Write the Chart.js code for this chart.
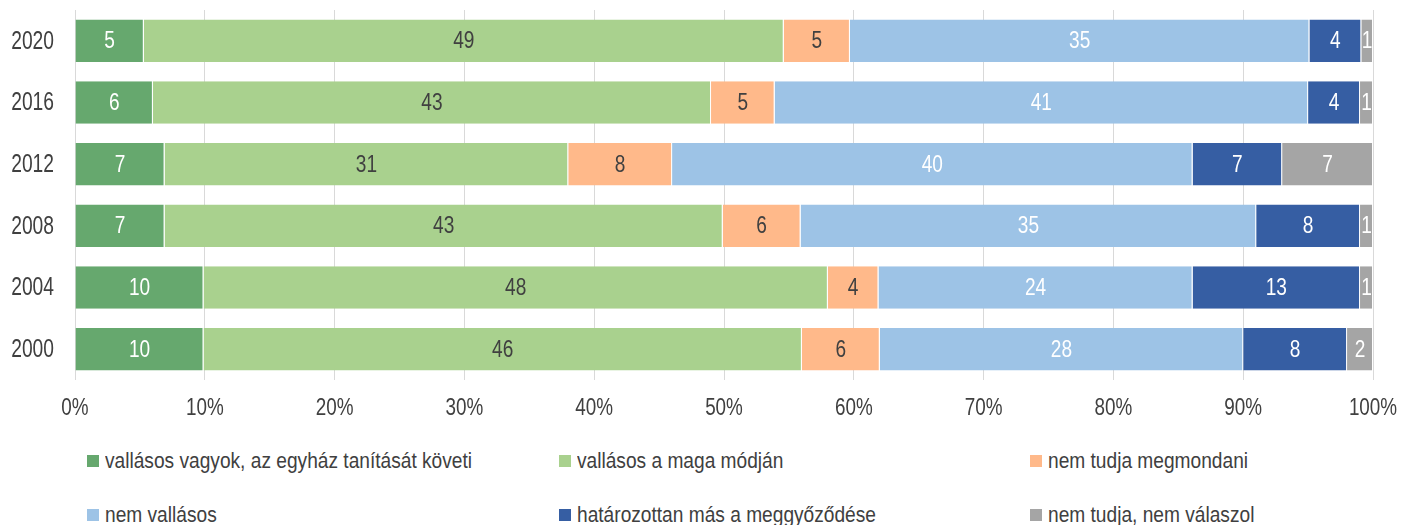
<!DOCTYPE html>
<html>
<head>
<meta charset="utf-8">
<script src="https://cdn.jsdelivr.net/npm/chart.js@4/dist/chart.umd.min.js"></script>
<style>
  html, body { margin: 0; padding: 0; background: #fff; }
  body { width: 1401px; height: 525px; position: relative; overflow: hidden; }
  #wrap { position: absolute; left: 0; top: 0; width: 1401px; height: 430px; }
  .leg { position: absolute; font-family: 'Liberation Sans', Arial, sans-serif; font-size: 22px; color: #404040; white-space: nowrap; line-height: 26px; }
  .leg .box { position: absolute; width: 12px; height: 12px; left: -18px; top: 7px; }
  .leg .txt { display: inline-block; transform: scaleX(0.87); transform-origin: 0 50%; }
</style>
</head>
<body>
<div id="wrap"><canvas id="c"></canvas></div>
<div id="legend"></div>
<script>
const categories = ['2020', '2016', '2012', '2008', '2004', '2000'];
const seriesNames = [
  'vallásos vagyok, az egyház tanítását követi',
  'vallásos a maga módján',
  'nem tudja megmondani',
  'nem vallásos',
  'határozottan más a meggyőződése',
  'nem tudja, nem válaszol'
];
const kovetiValues   = [5.3, 6.0, 6.9, 6.9, 9.9, 9.9];
const magaModjan     = [49.3, 43.0, 31.1, 43.0, 48.1, 46.1];
const nemTudjaMegm   = [5.1, 4.9, 8.0, 6.0, 3.9, 6.0];
const nemVallasos    = [35.4, 41.1, 40.1, 35.1, 24.2, 28.0];
const masMeggyoz     = [4.0, 4.0, 6.9, 8.0, 12.9, 8.0];
const nemValaszol    = [0.9, 1.0, 7.0, 1.0, 1.0, 2.0];
const xTickLabels = ['0%','10%','20%','30%','40%','50%','60%','70%','80%','90%','100%'];

const colors = ['#66a86e', '#a9d18e', '#ffb98a', '#9dc3e6', '#365ea3', '#a5a5a5'];
const labelColors = ['#ffffff', '#404040', '#404040', '#ffffff', '#ffffff', '#ffffff'];
const FONT = "'Liberation Sans', Arial, sans-serif";

const allSeries = [kovetiValues, magaModjan, nemTudjaMegm, nemVallasos, masMeggyoz, nemValaszol];

const datasets = allSeries.map((vals, i) => ({
  label: seriesNames[i],
  data: vals,
  backgroundColor: colors[i],
  borderColor: '#ffffff',
  borderWidth: {left: 0, right: 1, top: 0, bottom: 0},
  borderSkipped: false,
  barPercentage: 0.69,
  categoryPercentage: 1.0
}));

function condensedText(ctx, text, x, y, sx) {
  ctx.save();
  ctx.translate(x, y);
  ctx.scale(sx, 1);
  ctx.fillText(text, 0, 0);
  ctx.restore();
}

const labelPlugin = {
  id: 'barLabels',
  afterDatasetsDraw(chart) {
    const ctx = chart.ctx;
    ctx.save();
    ctx.font = "23px " + FONT;
    ctx.textAlign = 'center';
    ctx.textBaseline = 'middle';
    chart.data.datasets.forEach((ds, di) => {
      const meta = chart.getDatasetMeta(di);
      meta.data.forEach((el, i) => {
        const p = el.getProps(['x', 'y', 'base'], true);
        const cx = (p.x + p.base) / 2;
        ctx.fillStyle = labelColors[di];
        condensedText(ctx, String(Math.round(ds.data[i])), cx, p.y + 1, 0.83);
      });
    });
    ctx.restore();
  }
};

const tickPlugin = {
  id: 'condensedTicks',
  afterDraw(chart) {
    const ctx = chart.ctx;
    const xs = chart.scales.x, ys = chart.scales.y;
    ctx.save();
    ctx.fillStyle = '#404040';
    ctx.textBaseline = 'middle';
    ctx.font = "23px " + FONT;
    ctx.textAlign = 'center';
    xTickLabels.forEach((t, i) => {
      condensedText(ctx, t, xs.getPixelForValue(i * 10), chart.chartArea.bottom + 29, 0.82);
    });
    ctx.font = "25px " + FONT;
    ctx.textAlign = 'right';
    categories.forEach((c, i) => {
      condensedText(ctx, c, chart.chartArea.left - 21, ys.getPixelForValue(i) + 1, 0.77);
    });
    ctx.restore();
  }
};

new Chart(document.getElementById('c'), {
  type: 'bar',
  data: { labels: categories, datasets },
  options: {
    indexAxis: 'y',
    responsive: true,
    maintainAspectRatio: false,
    animation: false,
    layout: { padding: { top: 10, right: 28, left: 0, bottom: 0 } },
    plugins: { legend: { display: false }, tooltip: { enabled: false } },
    scales: {
      x: {
        stacked: true,
        min: 0, max: 100,
        afterFit(s) { s.height = 50; },
        grid: { color: '#d9d9d9', drawTicks: false, lineWidth: 1 },
        border: { display: false },
        ticks: { stepSize: 10, display: false, padding: 0 }
      },
      y: {
        stacked: true,
        afterFit(s) { s.width = 75; },
        grid: { display: false, drawTicks: false },
        border: { display: false },
        ticks: { display: false, padding: 0 }
      }
    }
  },
  plugins: [labelPlugin, tickPlugin]
});

const legendPos = [
  [105, 448], [577, 448], [1048, 448],
  [105, 502], [577, 502], [1048, 502]
];
const legendEl = document.getElementById('legend');
seriesNames.forEach((name, i) => {
  const d = document.createElement('div');
  d.className = 'leg';
  d.style.left = legendPos[i][0] + 'px';
  d.style.top = legendPos[i][1] + 'px';
  const b = document.createElement('span');
  b.className = 'box';
  b.style.background = colors[i];
  const t = document.createElement('span');
  t.className = 'txt';
  t.textContent = name;
  d.appendChild(b);
  d.appendChild(t);
  legendEl.appendChild(d);
});
</script>
</body>
</html>
